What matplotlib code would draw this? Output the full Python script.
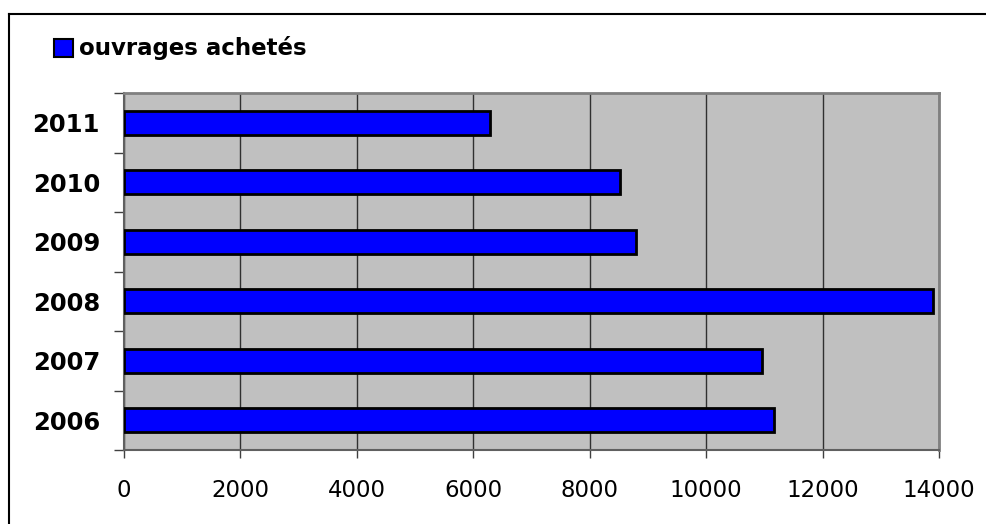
import matplotlib
matplotlib.use('Agg')
import matplotlib.pyplot as plt
from matplotlib.lines import Line2D
from matplotlib.patches import Rectangle

# Data
years = ['2006', '2007', '2008', '2009', '2010', '2011']
ouvrages = [11170, 10960, 13900, 8790, 8530, 6300]
xticks = [0, 2000, 4000, 6000, 8000, 10000, 12000, 14000]
series_label = 'ouvrages achetés'

W, H = 986, 524
fig = plt.figure(figsize=(W / 100, H / 100), dpi=100)
fig.patch.set_facecolor('white')

# outer chart frame (only top and left visible in the picture)
fig.add_artist(Line2D([8.5 / W, 8.5 / W], [0, 1 - 13.5 / H], color='black', lw=1.5,
                      transform=fig.transFigure))
fig.add_artist(Line2D([8.5 / W, 1], [1 - 13.5 / H, 1 - 13.5 / H], color='black', lw=1.5,
                      transform=fig.transFigure))

ax = fig.add_axes([123.5 / W, (H - 450) / H, (939 - 123.5) / W, (450 - 93) / H])
ax.set_facecolor('#C0C0C0')

ypos = list(range(len(years)))
ax.barh(ypos, ouvrages, height=0.41, color='#0000FF', edgecolor='black', linewidth=2,
        zorder=3)

ax.set_xlim(0, 14000)
ax.set_ylim(-0.5, len(years) - 0.5)
ax.set_xticks(xticks)
ax.set_xticklabels([str(v) for v in xticks], fontsize=16.5)
ax.set_yticks(ypos)
ax.set_yticklabels(years, fontsize=17.5, fontweight='bold')
ax.tick_params(axis='y', length=0, pad=17)
ax.tick_params(axis='x', length=6, width=1, color='#404040', pad=15)

# category separator ticks on the y axis (between bars)
ax.set_yticks([i - 0.5 for i in range(len(years) + 1)], minor=True)
ax.tick_params(axis='y', which='minor', length=7, width=1, color='#404040')

ax.grid(axis='x', color='#303030', linewidth=1, zorder=1)
ax.set_axisbelow(True)

for side in ['top', 'right']:
    ax.spines[side].set_color('#808080')
    ax.spines[side].set_linewidth(2)
for side in ['left', 'bottom']:
    ax.spines[side].set_color('#606060')
    ax.spines[side].set_linewidth(1.5)

# legend: small blue square and bold label
fig.add_artist(Rectangle((54 / W, 1 - 57 / H), 19 / W, 18 / H, facecolor='#0000FF',
                         edgecolor='black', linewidth=1.5, transform=fig.transFigure))
fig.text(79 / W, 1 - 48 / H, series_label, fontsize=16.5, fontweight='bold',
         va='center', ha='left')

fig.savefig('out.png', dpi=100)
